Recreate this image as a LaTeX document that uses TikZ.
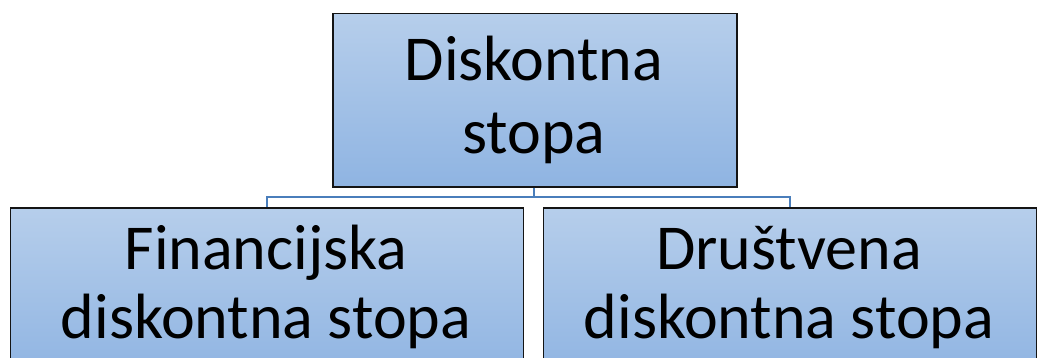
\documentclass[tikz,border=0pt]{standalone}
\usepackage{fontspec}
\setmainfont{Carlito}
\definecolor{boxtop}{RGB}{182,206,235}
\definecolor{boxbot}{RGB}{143,180,226}
\definecolor{boxline}{RGB}{20,20,20}
\definecolor{conn}{RGB}{74,126,187}
\begin{document}
\begin{tikzpicture}[x=1pt,y=-1pt,
  boxstyle/.style={draw=boxline,line width=1.5pt,top color=boxtop,bottom color=boxbot,rectangle,inner sep=0pt},
  txt/.style={align=center,inner sep=0pt,text=black},
  connline/.style={draw=conn,line width=2.5pt}]
\useasboundingbox (0,0) rectangle (1043,358);
\clip (0,0) rectangle (1043,358);
\node[boxstyle,minimum width=404,minimum height=173,anchor=north west] (top) at (332,13) {};
\node[boxstyle,minimum width=513,minimum height=170,anchor=north west] (left) at (9.5,207) {};
\node[boxstyle,minimum width=493,minimum height=170,anchor=north west] (right) at (542.5,207) {};
\node[txt,font=\fontsize{64}{73}\selectfont,anchor=base] (ttop) at (534,154) {Diskontna\\stopa};
\node[txt,font=\fontsize{64}{69}\selectfont,anchor=base] (tleft) at (266,338) {Financijska\\diskontna stopa};
\node[txt,font=\fontsize{64}{69}\selectfont,anchor=base] (tright) at (789,338) {Društvena\\diskontna stopa};
\coordinate (mid) at (534,197);
\draw[connline] (top.south -| mid) -- (mid) -| (left.north);
\draw[connline] (mid) -| (right.north);
\end{tikzpicture}
\end{document}
